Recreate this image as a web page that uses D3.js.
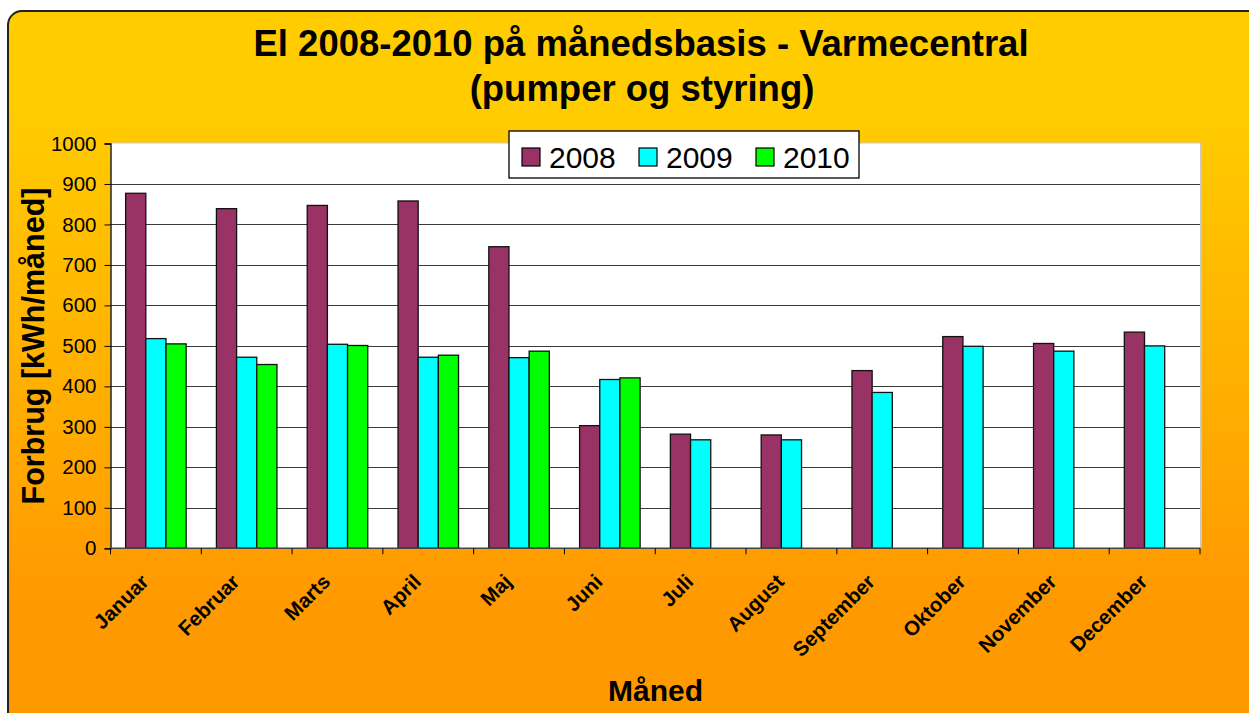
<!DOCTYPE html>
<html>
<head>
<meta charset="utf-8">
<script src="https://cdn.jsdelivr.net/npm/d3@7"></script>
<style>
  body { margin: 0; background: #fff; }
  svg { display: block; font-family: "Liberation Sans", Arial, sans-serif; }
</style>
</head>
<body>
<svg id="chart" width="1249" height="713"></svg>
<script>
const months = ["Januar", "Februar", "Marts", "April", "Maj", "Juni", "Juli", "August", "September", "Oktober", "November", "December"];
const years = ["2008", "2009", "2010"];
const values2008 = [877, 839, 847, 858, 745, 303, 282, 280, 439, 523, 506, 534];
const values2009 = [518, 472, 504, 472, 471, 417, 268, 268, 385, 499, 487, 500];
const values2010 = [505, 454, 501, 477, 487, 421, null, null, null, null, null, null];
const yTicks = [0, 100, 200, 300, 400, 500, 600, 700, 800, 900, 1000];
const colors = ["#993366", "#00FFFF", "#00FF00"];

const series = [values2008, values2009, values2010];

const svg = d3.select("#chart");
const W = 1249, H = 713;
const plot = { left: 110.5, right: 1200, top: 143.5, bottom: 548.3 };

// background gradient
const defs = svg.append("defs");
const grad = defs.append("linearGradient")
  .attr("id", "bg")
  .attr("gradientUnits", "userSpaceOnUse")
  .attr("x1", 0).attr("y1", 110).attr("x2", 0).attr("y2", 600);
grad.append("stop").attr("offset", 0).attr("stop-color", "#FFCC00");
grad.append("stop").attr("offset", 1).attr("stop-color", "#FF9900");

svg.append("rect")
  .attr("x", 8).attr("y", 11)
  .attr("width", W + 10).attr("height", H + 10)
  .attr("rx", 14)
  .attr("fill", "url(#bg)")
  .attr("stroke", "#222")
  .attr("stroke-width", 2);

// title
const title = svg.append("text")
  .attr("text-anchor", "middle")
  .attr("font-size", 36.5)
  .attr("font-weight", "bold")
  .attr("fill", "#000");
title.append("tspan").attr("x", 641).attr("y", 56).text("El 2008-2010 på månedsbasis - Varmecentral");
title.append("tspan").attr("x", 642).attr("y", 101).text("(pumper og styring)");

// plot area
svg.append("rect")
  .attr("x", plot.left + 2).attr("y", plot.top - 1)
  .attr("width", plot.right - plot.left).attr("height", plot.bottom - plot.top)
  .attr("fill", "#c8c8c8");
svg.append("rect")
  .attr("x", plot.left).attr("y", plot.top)
  .attr("width", plot.right - plot.left).attr("height", plot.bottom - plot.top)
  .attr("fill", "#fff");

const x0 = d3.scaleBand().domain(months).range([plot.left, plot.right]).padding(0);
const bw = x0.bandwidth();
const x1 = d3.scaleBand().domain(years).range([bw / 6, bw * 5 / 6]).padding(0);
const y = d3.scaleLinear().domain([0, 1000]).range([plot.bottom, plot.top]);

// gridlines
svg.append("g")
  .selectAll("line")
  .data(yTicks.filter(t => t > 0 && t < 1000))
  .join("line")
  .attr("x1", plot.left).attr("x2", plot.right)
  .attr("y1", d => Math.round(y(d)) + 0.5).attr("y2", d => Math.round(y(d)) + 0.5)
  .attr("stroke", "#3a3a3a")
  .attr("stroke-width", 1);

// bars
const groups = svg.append("g")
  .selectAll("g")
  .data(months)
  .join("g")
  .attr("transform", d => `translate(${x0(d)},0)`);

groups.selectAll("rect")
  .data((m, i) => years.map((yr, j) => ({ yr, j, v: series[j][i] })).filter(d => d.v != null))
  .join("rect")
  .attr("x", d => x1(d.yr))
  .attr("y", d => y(d.v))
  .attr("width", x1.bandwidth())
  .attr("height", d => y(0) - y(d.v))
  .attr("fill", d => colors[d.j])
  .attr("stroke", "#111")
  .attr("stroke-width", 1.3);

// y axis
const yAxis = svg.append("g")
  .attr("transform", `translate(${plot.left},0)`)
  .call(d3.axisLeft(y).tickValues(yTicks).tickFormat(d3.format("d")).tickSize(6).tickPadding(8));
yAxis.select(".domain").attr("stroke", "#000").attr("stroke-width", 1.3);
yAxis.selectAll(".tick line").attr("stroke", "#000");
yAxis.selectAll(".tick text")
  .attr("font-size", 20.5)
  .attr("font-family", "Liberation Sans, Arial, sans-serif")
  .attr("fill", "#000");

// x axis: line, ticks at band boundaries, rotated labels
svg.append("line")
  .attr("x1", plot.left).attr("x2", plot.right)
  .attr("y1", plot.bottom).attr("y2", plot.bottom)
  .attr("stroke", "#444").attr("stroke-width", 1.5);

svg.append("g")
  .selectAll("line")
  .data(months.map(m => x0(m)).concat([plot.right]))
  .join("line")
  .attr("x1", d => d).attr("x2", d => d)
  .attr("y1", plot.bottom).attr("y2", plot.bottom + 6)
  .attr("stroke", "#000");

svg.append("g")
  .selectAll("text")
  .data(months)
  .join("text")
  .attr("transform", d => `translate(${x0(d) + bw / 2 - 6},583) rotate(-45)`)
  .attr("text-anchor", "end")
  .attr("font-size", 20.5)
  .attr("font-weight", "bold")
  .text(d => d);

// axis titles
svg.append("text")
  .attr("transform", `translate(44,346) rotate(-90)`)
  .attr("text-anchor", "middle")
  .attr("font-size", 30.5)
  .attr("font-weight", "bold")
  .text("Forbrug [kWh/måned]");

svg.append("text")
  .attr("x", 655.5).attr("y", 701)
  .attr("text-anchor", "middle")
  .attr("font-size", 30)
  .attr("font-weight", "bold")
  .text("Måned");

// legend
const legend = svg.append("g").attr("transform", "translate(509,131)");
legend.append("rect")
  .attr("width", 350).attr("height", 47)
  .attr("fill", "#fff").attr("stroke", "#000").attr("stroke-width", 1.3);
const item = legend.selectAll("g")
  .data(years)
  .join("g")
  .attr("transform", (d, i) => `translate(${13 + i * 117},0)`);
item.append("rect")
  .attr("y", 17).attr("width", 18).attr("height", 18)
  .attr("fill", (d, i) => colors[i])
  .attr("stroke", "#000").attr("stroke-width", 1.2);
item.append("text")
  .attr("x", 27).attr("y", 36.5)
  .attr("font-size", 30)
  .text(d => d);
</script>
</body>
</html>
